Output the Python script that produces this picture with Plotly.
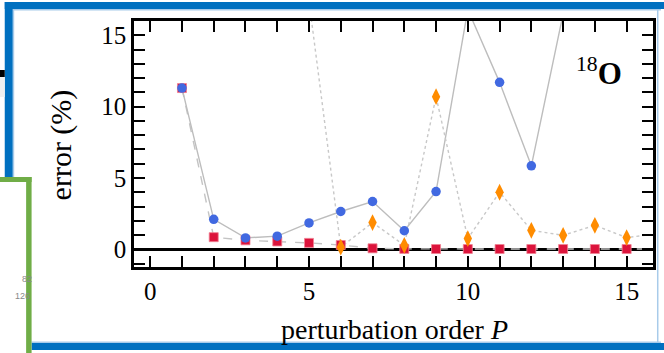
import plotly.graph_objects as go

# ---- data ----
P_blue = [1, 2, 3, 4, 5, 6, 7, 8, 9, 10, 11, 12, 13]
err_blue = [11.3, 2.1, 0.8, 0.92, 1.85, 2.65, 3.35, 1.3, 4.05, 16.8, 11.7, 5.85, 16.5]

P_red = [1, 2, 3, 4, 5, 6, 7, 8, 9, 10, 11, 12, 13, 14, 15, 16]
err_red = [11.3, 0.85, 0.63, 0.55, 0.45, 0.3, 0.07, 0.03, 0.02, 0.02, 0.02, 0.02, 0.02, 0.02, 0.02, 0.02]

P_orange = [5, 6, 7, 8, 9, 10, 11, 12, 13, 14, 15, 16]
err_orange = [17.4, 0.15, 1.87, 0.28, 10.7, 0.75, 4.0, 1.33, 0.98, 1.68, 0.82, 1.1]

x_ticks = [0, 5, 10, 15]
y_ticks = [0, 5, 10, 15]

FONT = "Liberation Serif"
W, H = 664, 353
L, R, T, B = 134, 8, 21, 86
PW, PH = W - L - R, H - T - B


def px(x):
    return (x - L) / PW


def py(y):
    return (H - B - y) / PH


fig = go.Figure()

# connecting lines (drawn first, below markers)
fig.add_trace(go.Scatter(x=P_red, y=err_red, mode="lines",
                         line=dict(color="#c4c4c4", width=1.4, dash="dash"),
                         hoverinfo="skip", showlegend=False))
fig.add_trace(go.Scatter(x=P_blue, y=err_blue, mode="lines",
                         line=dict(color="#bdbdbd", width=1.4),
                         hoverinfo="skip", showlegend=False))
fig.add_trace(go.Scatter(x=P_orange, y=err_orange, mode="lines",
                         line=dict(color="#c8c8c8", width=1.4, dash="dot"),
                         hoverinfo="skip", showlegend=False))

# markers
fig.add_trace(go.Scatter(x=P_red, y=err_red, mode="markers",
                         marker=dict(symbol="square", size=9, color="#DC143C",
                                     line=dict(color="#f08090", width=0.8)),
                         showlegend=False))
fig.add_trace(go.Scatter(x=P_blue, y=err_blue, mode="markers",
                         marker=dict(symbol="circle", size=9.5, color="#4169E1",
                                     line=dict(width=0)),
                         showlegend=False))
fig.add_trace(go.Scatter(x=P_orange, y=err_orange, mode="markers",
                         marker=dict(symbol="diamond-tall", size=12, color="#FF8C00",
                                     line=dict(width=0)),
                         showlegend=False))

axis_common = dict(
    showgrid=False, showline=True, linecolor="black", linewidth=2.5,
    mirror="ticks", ticks="inside", ticklen=11, tickwidth=1.7, tickcolor="black",
    tickfont=dict(family=FONT, size=25, color="black"),
    minor=dict(ticks="inside", ticklen=11, tickwidth=1.7, tickcolor="black", dtick=1),
)

fig.update_xaxes(range=[-0.51, 15.83], tickvals=x_ticks, zeroline=False, **axis_common)
fig.update_yaxes(range=[-1.24, 16.0], tickvals=y_ticks, zeroline=True,
                 zerolinecolor="black", zerolinewidth=2.6, **axis_common)

annotations = [
    dict(text="error (%)", x=px(61), y=py(145), xref="paper", yref="paper",
         textangle=-90, showarrow=False, font=dict(family=FONT, size=30, color="black"),
         xanchor="center", yanchor="middle"),
    dict(text="perturbation order <i>P</i>", x=px(396), y=py(329), xref="paper", yref="paper",
         showarrow=False, font=dict(family=FONT, size=28, color="black"),
         xanchor="center", yanchor="middle"),
    dict(text="<sup>18</sup><b>O</b>", x=px(627), y=py(71), xref="paper", yref="paper",
         showarrow=False, font=dict(family=FONT, size=31, color="black"),
         xanchor="right", yanchor="middle"),
    dict(text="82", x=px(19), y=py(286), xref="paper", yref="paper", showarrow=False,
         font=dict(family="Liberation Sans", size=9, color="#888888")),
    dict(text="126", x=px(12), y=py(303), xref="paper", yref="paper", showarrow=False,
         font=dict(family="Liberation Sans", size=9, color="#888888")),
]


def rect(x0, y0, x1, y1, color, line=None):
    return dict(type="rect", xref="paper", yref="paper",
                x0=px(x0), x1=px(x1), y0=py(y1), y1=py(y0),
                fillcolor=color, line=dict(width=0) if line is None else line,
                layer="above")


BLUE = "#0070C0"
LIGHT = "#a8cbea"
GREEN = "#70AD47"
shapes = [
    # thin light inner edge of blue frame
    rect(12, 9, 664, 10.5, LIGHT),
    rect(12, 9, 13.5, 180, LIGHT),
    rect(31, 341.5, 664, 343, LIGHT),
    rect(660, 9, 661.5, 343, LIGHT),
    # blue frame
    rect(4, 2, 670, 9, BLUE),
    rect(4, 2, 12, 178, BLUE),
    rect(31, 343, 670, 350, BLUE),
    # green box on the left
    rect(-5, 177, 31, 182, GREEN),
    rect(25.5, 177, 31, 360, GREEN),
    # small black/gray artefacts at the top left
    rect(-5, 70, 4, 77, "black"),
    rect(-5, 77, 4, 97, "#f0f0f0"),
]

fig.update_layout(
    width=W, height=H,
    margin=dict(l=L, r=R, t=T, b=B),
    paper_bgcolor="white", plot_bgcolor="white",
    font=dict(family=FONT, color="black"),
    annotations=annotations, shapes=shapes,
    showlegend=False,
)

fig.write_html("out.html", config={"displayModeBar": False},
               post_script="document.body.style.margin='0';document.body.style.overflow='hidden';")
